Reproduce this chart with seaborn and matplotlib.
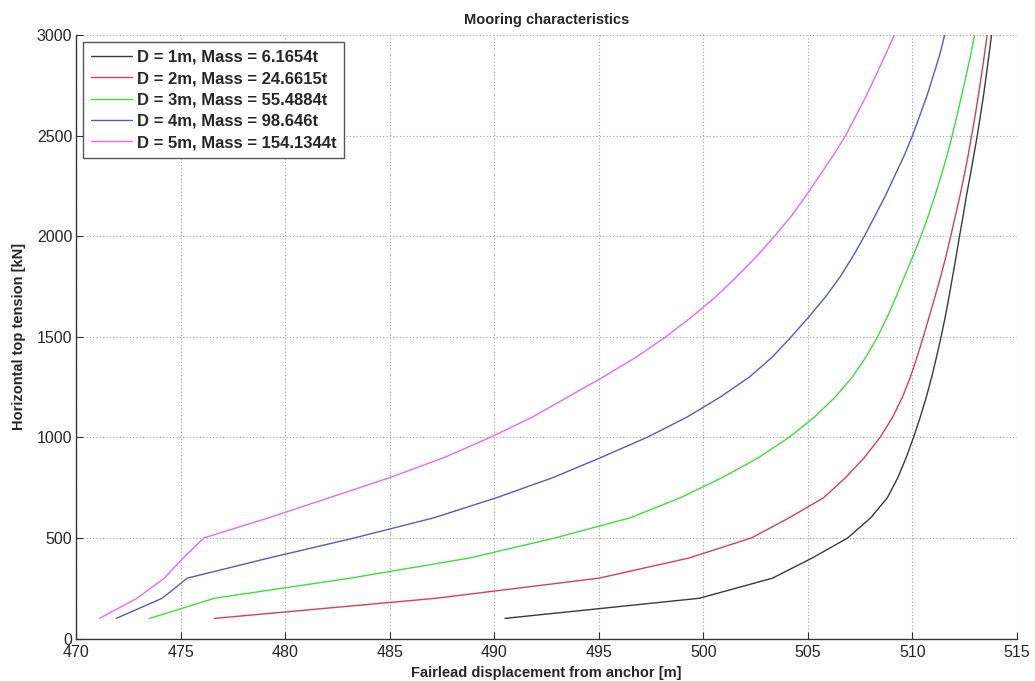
import matplotlib
matplotlib.use("Agg")
import matplotlib.pyplot as plt
import seaborn as sns
import pandas as pd

# Horizontal top tension levels [kN] at which each line was solved
tension = [100, 200, 300, 400, 500, 600, 700, 800, 900, 1000,
           1100, 1200, 1300, 1400, 1500, 1600, 1700, 1800, 1900, 2000,
           2100, 2200, 2300, 2400, 2500, 2600, 2700, 2800, 2900, 3000]

# Fairlead displacement from anchor [m] for each chain diameter
disp_d1 = [490.5, 499.8, 503.3, 505.2, 506.9, 508.0, 508.8, 509.3, 509.7, 510.05,
           510.37, 510.66, 510.92, 511.15, 511.37, 511.57, 511.75, 511.92, 512.09, 512.25,
           512.42, 512.58, 512.76, 512.93, 513.1, 513.25, 513.4, 513.53, 513.66, 513.78]
disp_d2 = [476.6, 487.2, 495.0, 499.3, 502.3, 504.1, 505.75, 506.8, 507.7, 508.45,
           509.05, 509.52, 509.9, 510.22, 510.52, 510.8, 511.08, 511.35, 511.6, 511.83,
           512.05, 512.27, 512.47, 512.66, 512.83, 513.0, 513.15, 513.3, 513.44, 513.57]
disp_d3 = [473.5, 476.6, 483.1, 488.8, 492.9, 496.5, 498.9, 500.9, 502.65, 504.1,
           505.3, 506.3, 507.12, 507.78, 508.33, 508.8, 509.22, 509.62, 510.02, 510.4,
           510.75, 511.07, 511.37, 511.65, 511.9, 512.13, 512.35, 512.57, 512.78, 512.97]
disp_d4 = [471.9, 474.1, 475.3, 479.2, 483.3, 487.1, 490.1, 492.8, 495.1, 497.3,
           499.2, 500.8, 502.2, 503.3, 504.2, 505.05, 505.85, 506.55, 507.15, 507.7,
           508.2, 508.7, 509.15, 509.6, 510.0, 510.35, 510.7, 511.0, 511.3, 511.54]
disp_d5 = [471.1, 472.9, 474.2, 475.1, 476.1, 479.2, 482.1, 485.0, 487.6, 489.8,
           491.8, 493.5, 495.2, 496.8, 498.2, 499.45, 500.6, 501.6, 502.55, 503.4,
           504.2, 504.9, 505.55, 506.2, 506.8, 507.3, 507.8, 508.25, 508.7, 509.13]

labels = ["D = 1m, Mass = 6.1654t", "D = 2m, Mass = 24.6615t",
          "D = 3m, Mass = 55.4884t", "D = 4m, Mass = 98.646t",
          "D = 5m, Mass = 154.1344t"]
series = [disp_d1, disp_d2, disp_d3, disp_d4, disp_d5]
colors = ["#3a3a3a", "#d0405a", "#3fdc3f", "#5a5ab8", "#e86ae8"]

sns.set_theme(style="white")
plt.rcParams["font.family"] = ["Liberation Sans", "DejaVu Sans"]

fig = plt.figure(figsize=(10.35, 6.81), dpi=100)
ax = fig.add_axes([0.0739, 0.0624, 0.9087, 0.8862])

frames = []
for lab, xs in zip(labels, series):
    frames.append(pd.DataFrame({"disp": xs, "tension": tension, "case": lab}))
df = pd.concat(frames, ignore_index=True)

sns.lineplot(data=df, x="disp", y="tension", hue="case", hue_order=labels,
             palette=colors, sort=False, estimator=None, linewidth=1.0, ax=ax)

ax.set_xlim(470, 515)
ax.set_ylim(0, 3000)
ax.set_xticks(range(470, 516, 5))
ax.set_yticks(range(0, 3001, 500))
ax.grid(True, linestyle=(0, (1, 2)), color="#a0a0a0", linewidth=0.8)
for side in ["top", "right"]:
    ax.spines[side].set_visible(False)
for side in ["left", "bottom"]:
    ax.spines[side].set_color("#333333")
    ax.spines[side].set_linewidth(1.0)
ax.tick_params(direction="in", length=5, width=0.8, color="#333333",
               labelsize=11.5, pad=3, bottom=True, left=True)
ax.tick_params(axis="x", pad=5)

ax.set_title("Mooring characteristics", fontsize=10.5, fontweight="bold", pad=8)
ax.set_xlabel("Fairlead displacement from anchor [m]", fontsize=10.5,
              fontweight="bold", labelpad=4)
ax.set_ylabel("Horizontal top tension [kN]", fontsize=10.5,
              fontweight="bold", labelpad=8)

leg = ax.legend(loc="upper left", bbox_to_anchor=(0.007, 0.988), frameon=True,
                fancybox=False, edgecolor="#555555", framealpha=1,
                prop={"size": 12, "weight": "bold"}, handlelength=2.5,
                handletextpad=0.3, borderpad=0.45, labelspacing=0.38,
                borderaxespad=0.0)
leg.get_frame().set_linewidth(1.0)
for h in leg.get_lines():
    h.set_linewidth(1.0)

fig.savefig("out.png", dpi=100)
